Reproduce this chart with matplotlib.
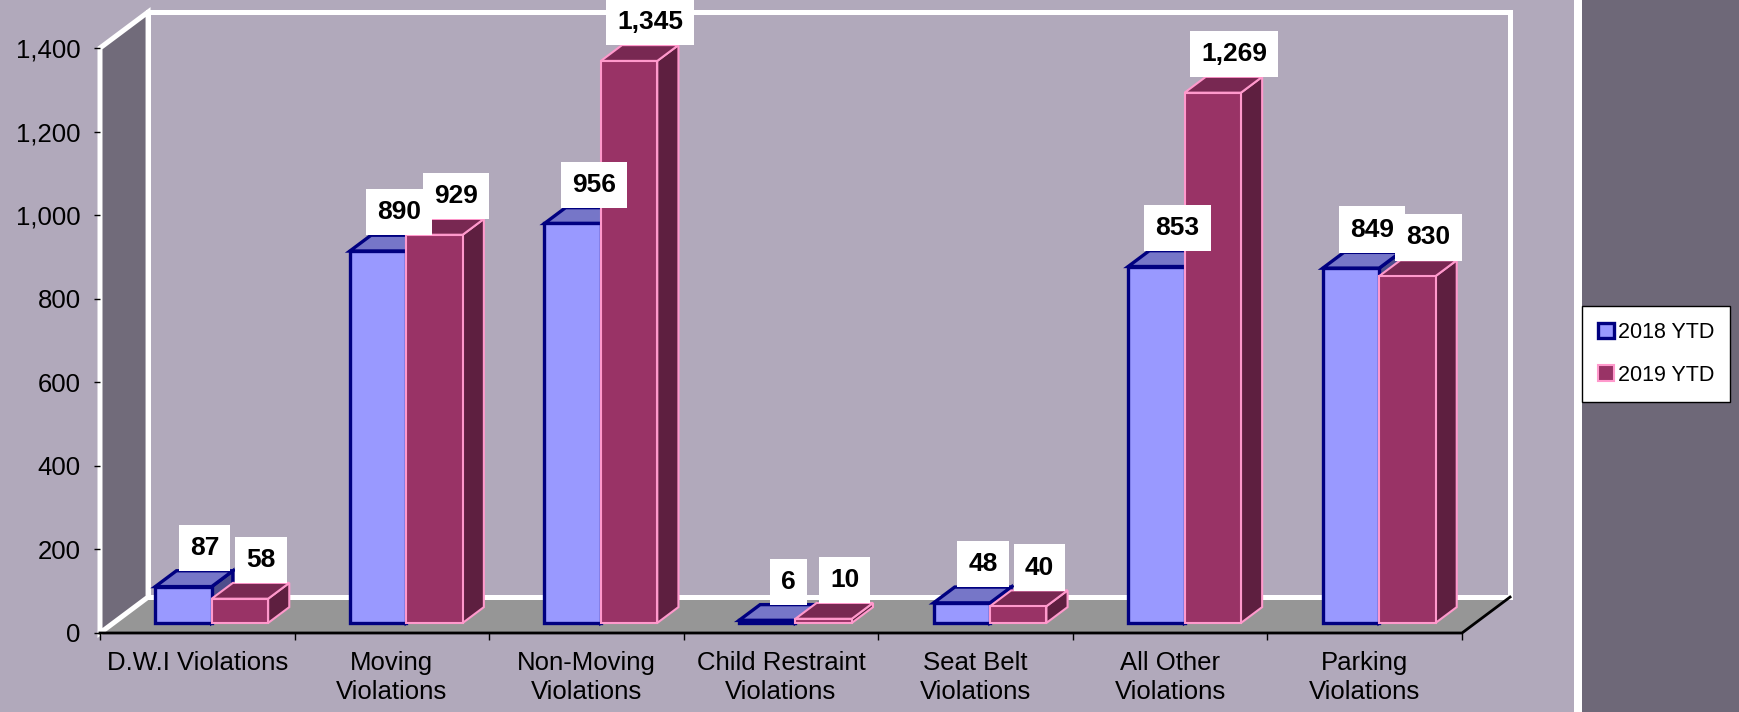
import matplotlib
matplotlib.use("Agg")
import matplotlib.pyplot as plt
from matplotlib.patches import Polygon, Rectangle, Patch

plt.rcParams['font.family'] = ['Liberation Sans', 'DejaVu Sans']

# --- data ---
categories = ["D.W.I Violations", "Moving\nViolations", "Non-Moving\nViolations",
              "Child Restraint\nViolations", "Seat Belt\nViolations",
              "All Other\nViolations", "Parking\nViolations"]
series_names = ["2018 YTD", "2019 YTD"]
ytd_2018 = [87, 890, 956, 6, 48, 853, 849]
ytd_2019 = [58, 929, 1345, 10, 40, 1269, 830]
y_ticks = [0, 200, 400, 600, 800, 1000, 1200, 1400]

# --- colours ---
BG = '#B1A9BB'
SIDE_WALL = '#716B7A'
PANEL = '#6E6878'
FLOOR = '#969696'
STYLES = [
    dict(front='#9999FF', top='#7676C8', side='#4E4E8C', edge='#000080', lw=2.4),
    dict(front='#993366', top='#782852', side='#5E1F40', edge='#FF99CC', lw=1.5),
]

W_PX, H_PX = 1739, 712
fig = plt.figure(figsize=(W_PX / 100, H_PX / 100), dpi=100, facecolor=BG)

# right-hand panel with white separator
fig.add_artist(Rectangle((1574 / W_PX, 0), 8 / W_PX, 1, transform=fig.transFigure,
                         fc='white', ec='none', zorder=0))
fig.add_artist(Rectangle((1582 / W_PX, 0), 157 / W_PX, 1, transform=fig.transFigure,
                         fc=PANEL, ec='none', zorder=0))

ax = fig.add_axes([100 / W_PX, 79 / H_PX, 1362 / W_PX, 585 / H_PX])
ax.set_xlim(0, len(categories))
ax.set_ylim(0, 1400)
ax.patch.set_visible(False)
for s in ax.spines.values():
    s.set_visible(False)
ax.set_axisbelow(False)

n = len(categories)
ymax = y_ticks[-1]
DX, DY = 0.247, 86          # depth of the 3-D box in data units
F0, FB = 0.28, 0.44          # bar front position / bar depth (fraction of box depth)
BW, X_OFF = 0.29, 0.215      # bar width and left gap within a category

# floor
ax.add_patch(Polygon([(0, 0), (n, 0), (n + DX, DY), (DX, DY)], closed=True,
                     fc=FLOOR, ec='none', clip_on=False, zorder=1))
# side wall and back wall with white outline
ax.add_patch(Polygon([(0, 0), (0, ymax), (DX, ymax + DY), (DX, DY)], closed=True,
                     fc=SIDE_WALL, ec='white', lw=3.6, joinstyle='miter',
                     clip_on=False, zorder=2))
ax.add_patch(Rectangle((DX, DY), n, ymax, fc=BG, ec='white', lw=3.6,
                       joinstyle='miter', clip_on=False, zorder=1.5))
# floor front and right edges
ax.plot([0, n, n + DX], [0, 0, DY], color='black', lw=2, clip_on=False,
        zorder=3, solid_joinstyle='miter')

# bars
for i in range(n):
    for j, vals in enumerate([ytd_2018, ytd_2019]):
        st = STYLES[j]
        v = vals[i]
        x0 = i + X_OFF + j * BW + F0 * DX
        y0 = F0 * DY
        bx, by = FB * DX, FB * DY
        z = 4 + i * 0.1 + j * 0.03
        side = [(x0 + BW, y0), (x0 + BW, y0 + v), (x0 + BW + bx, y0 + v + by),
                (x0 + BW + bx, y0 + by)]
        top = [(x0, y0 + v), (x0 + BW, y0 + v), (x0 + BW + bx, y0 + v + by),
               (x0 + bx, y0 + v + by)]
        ax.add_patch(Polygon(side, closed=True, fc=st['side'], ec=st['edge'],
                             lw=st['lw'], clip_on=False, zorder=z))
        ax.add_patch(Polygon(top, closed=True, fc=st['top'], ec=st['edge'],
                             lw=st['lw'], clip_on=False, zorder=z + 0.01))
        ax.add_patch(Rectangle((x0, y0), BW, v, fc=st['front'], ec=st['edge'],
                               lw=st['lw'], clip_on=False, zorder=z + 0.02))
        ax.text(x0 + BW / 2 + bx, y0 + v + by + 26, f"{v:,}", ha='center',
                va='bottom', fontsize=19, fontweight='bold', color='black',
                bbox=dict(boxstyle='square,pad=0.42', fc='white', ec='none'),
                zorder=20, clip_on=False)

# axes ticks
ax.set_yticks(y_ticks)
ax.set_yticklabels([f"{t:,}" for t in y_ticks])
ax.tick_params(axis='y', length=4, width=1, color='black', pad=10,
               labelsize=18.5, labelcolor='black')
ax.set_xticks([i + 0.5 for i in range(n)])
ax.set_xticklabels(categories, linespacing=1.25)
ax.set_xticks(list(range(n + 1)), minor=True)
ax.tick_params(axis='x', which='major', length=0, pad=13, labelsize=18.5,
               labelcolor='black')
ax.tick_params(axis='x', which='minor', length=5, width=1, color='black')

# legend
handles = [Patch(facecolor=STYLES[k]['front'], edgecolor=STYLES[k]['edge'],
                 lw=STYLES[k]['lw']) for k in range(2)]
leg = fig.legend(handles, series_names, loc='upper left',
                 bbox_to_anchor=(1582 / W_PX, 1 - 306 / H_PX), borderaxespad=0,
                 frameon=True, fancybox=False, edgecolor='black', facecolor='white',
                 framealpha=1, fontsize=15.5, handlelength=0.72, handleheight=0.72,
                 handletextpad=0.2, labelspacing=1.0, borderpad=0.75)
leg.get_frame().set_linewidth(1)

fig.savefig("out.png", dpi=100, facecolor=BG)
